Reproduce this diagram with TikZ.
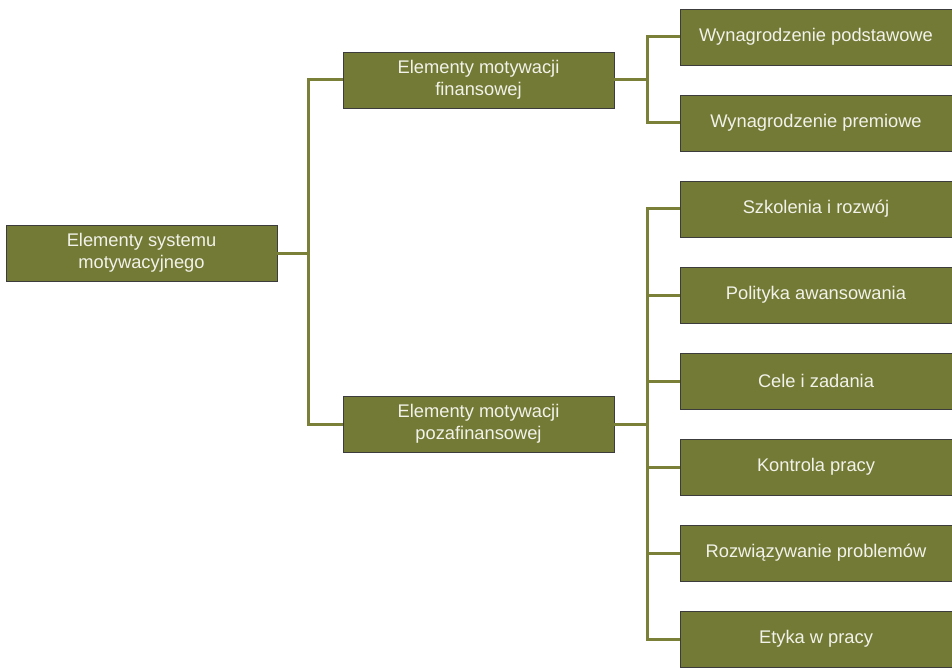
\documentclass[tikz,border=0pt]{standalone}
\usepackage{fontspec}
\setmainfont{Liberation Sans}
\definecolor{olive}{HTML}{737A35}
\definecolor{lineolive}{HTML}{7A8038}
\definecolor{boxborder}{HTML}{3C3C3C}
\definecolor{txt}{HTML}{F2F2EA}
\begin{document}
\begin{tikzpicture}[x=1pt,y=-1pt,
  box/.style={draw=boxborder,line width=0.8pt,fill=olive,text=txt,
    minimum width=271pt,minimum height=56pt,inner sep=0pt,
    align=center,font=\fontsize{18.3}{22}\selectfont},
  rbox/.style={box,minimum width=272pt},
  conn/.style={draw=lineolive,line width=3pt}]
\useasboundingbox (0,0) rectangle (952,668);
\coordinate (j1) at (308,253);
\coordinate (j2) at (647,80);
\coordinate (j3) at (647,424);
\node[box] (root) at (141.5,253) {Elementy systemu\\motywacyjnego};
\node[box] (fin) at (478.5,80) {Elementy motywacji\\finansowej};
\node[box] (poz) at (478.5,424) {Elementy motywacji\\pozafinansowej};
\node[rbox] (a1) at (816,37) {Wynagrodzenie podstawowe};
\node[rbox] (a2) at (816,123) {Wynagrodzenie premiowe};
\node[rbox] (b1) at (816,209) {Szkolenia i rozwój};
\node[rbox] (b2) at (816,295) {Polityka awansowania};
\node[rbox] (b3) at (816,381) {Cele i zadania};
\node[rbox] (b4) at (816,467) {Kontrola pracy};
\node[rbox] (b5) at (816,553) {Rozwiązywanie problemów};
\node[rbox] (b6) at (816,639) {Etyka w pracy};
\draw[conn] (root.east) -- (j1);
\draw[conn] (fin.west) -| (j1) |- (poz.west);
\draw[conn] (fin.east) -- (j2);
\draw[conn] (a1.west) -| (j2) |- (a2.west);
\draw[conn] (poz.east) -- (j3);
\draw[conn] (b1.west) -| (j3) |- (b6.west);
\draw[conn] (b2.west) -- (b2.west -| j3);
\draw[conn] (b3.west) -- (b3.west -| j3);
\draw[conn] (b4.west) -- (b4.west -| j3);
\draw[conn] (b5.west) -- (b5.west -| j3);
\end{tikzpicture}
\end{document}
